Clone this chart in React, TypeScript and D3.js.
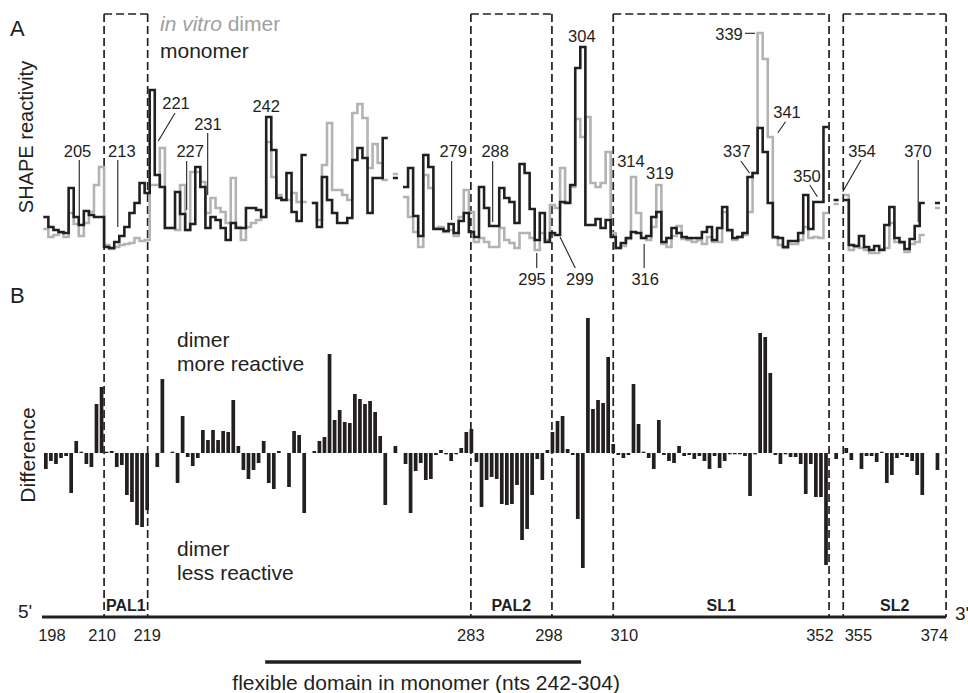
import React from 'react';
import * as d3 from 'd3';

// ---------- DATA ----------
const NT_START = 198;
const nts: number[] = d3.range(198, 375);

// SHAPE reactivity, monomer (black trace)
const monomer: (number | null)[] = [
  0.41, 0.31, 0.28, 0.26, 0.25, 0.70, 0.41, 0.33, 0.47, 0.43,
  0.41, 0.41, 0.11, 0.10, 0.16, 0.22, 0.31, 0.45, 0.55, 0.75,
  0.65, 1.68, 0.83, 0.71, 0.30, 0.30, 0.66, 0.44, 0.28, 0.34,
  0.91, 0.71, 0.30, 0.41, 0.38, 0.30, 0.18, 0.35, 0.30, 0.30,
  0.50, 0.50, 0.48, 0.41, 1.41, 1.08, 0.60, 0.58, 0.85, 0.46,
  0.37, 1.03, null, 0.55, 0.31, 0.81, 0.58, 0.45, 0.35, 0.35,
  0.40, 0.98, 1.10, 1.00, 0.45, 0.80, 0.80, 1.20, null, 0.80,
  null, 0.71, 0.90, 0.42, 0.22, 1.03, 0.91, 0.29, 0.29, 0.27,
  0.34, 0.25, 0.37, 0.45, 0.26, 0.21, 0.71, 0.50, 0.32, 0.32,
  0.70, 0.60, 0.56, 0.35, 0.94, 0.85, 0.49, 0.18, 0.45, 0.16,
  0.25, 0.23, 0.56, 0.55, 0.73, 1.90, 2.11, 0.33, 0.33, 0.39,
  0.30, 0.38, 0.21, 0.10, 0.15, 0.20, 0.26, 0.25, 0.20, 0.22,
  0.41, 0.46, 0.16, 0.20, 0.30, 0.25, 0.21, 0.20, 0.20, 0.20,
  0.26, 0.31, 0.18, 0.30, 0.51, 0.28, 0.20, 0.21, 0.25, 0.81,
  0.85, 1.30, 1.06, 0.55, 0.21, 0.20, 0.11, 0.17, 0.17, 0.25,
  0.63, 0.29, 0.56, 0.56, 1.31, null, 0.58, null, 0.58, 0.13,
  0.12, 0.22, 0.11, 0.08, 0.12, 0.08, 0.33, 0.51, 0.20, 0.16,
  0.09, 0.19, 0.32, 0.55, null, null, 0.55,
];

// SHAPE reactivity, in vitro dimer (grey trace)
const dimer: (number | null)[] = [
  0.29, 0.21, 0.23, 0.25, 0.21, 0.45, 0.34, 0.22, 0.35, 0.46,
  0.73, 0.91, 0.13, 0.09, 0.11, 0.13, 0.14, 0.15, 0.20, 0.17,
  0.18, 0.73, 0.73, 1.10, 0.30, 0.30, 0.28, 0.73, 0.28, 0.86,
  0.86, 0.76, 0.45, 0.60, 0.50, 0.46, 0.35, 0.80, 0.31, 0.18,
  0.31, 0.35, 0.38, 0.41, 1.16, 0.81, 0.63, 0.58, 0.58, 0.65,
  0.56, 0.56, null, 0.55, 0.38, 0.93, 1.35, 0.68, 0.68, 0.63,
  0.58, 1.45, 1.54, 1.40, 0.90, 1.14, 0.95, 0.78, null, 0.84,
  null, 0.61, 0.41, 0.26, 0.11, 0.83, 0.70, 0.30, 0.31, 0.26,
  0.28, 0.22, 0.41, 0.68, 0.46, 0.16, 0.20, 0.16, 0.11, 0.11,
  0.30, 0.18, 0.15, 0.10, 0.25, 0.25, 0.20, 0.08, 0.25, 0.18,
  0.53, 0.50, 0.90, 0.56, 0.71, 1.39, 1.21, 1.41, 0.75, 0.71,
  0.75, 1.06, 0.25, 0.10, 0.12, 0.19, 0.81, 0.45, 0.20, 0.18,
  0.31, 0.73, 0.14, 0.11, 0.22, 0.32, 0.19, 0.18, 0.16, 0.18,
  0.14, 0.21, 0.16, 0.16, 0.46, 0.27, 0.18, 0.21, 0.23, 0.46,
  0.85, 2.25, 1.99, 1.21, 0.20, 0.13, 0.10, 0.14, 0.14, 0.18,
  0.31, 0.20, 0.21, 0.20, 0.45, null, 0.54, null, 0.63, 0.08,
  0.11, 0.10, 0.08, 0.05, 0.05, 0.09, 0.10, 0.35, 0.16, 0.15,
  0.06, 0.14, 0.16, 0.23, null, null, 0.50,
];

// Difference (dimer - monomer)
const difference: (number | null)[] = [
  -0.16, -0.08, -0.11, -0.05, -0.03, -0.40, 0.12, 0.01, -0.11, -0.14,
  0.49, 0.66, 0.01, 0.02, -0.14, -0.12, -0.42, -0.49, -0.72, -0.74,
  -0.57, null, -0.14, 0.74, null, 0.01, -0.30, 0.37, -0.04, -0.13,
  -0.05, 0.23, 0.13, 0.23, 0.13, 0.22, 0.21, 0.53, 0.07, -0.17,
  -0.26, -0.17, -0.10, 0.12, -0.30, -0.36, 0.02, null, -0.34, 0.22,
  0.18, -0.60, null, 0.02, 0.12, 0.16, 0.99, 0.33, 0.43, 0.31,
  0.30, 0.59, 0.54, 0.49, 0.52, 0.41, 0.17, -0.52, null, 0.07,
  null, -0.11, -0.60, -0.18, -0.10, -0.27, -0.26, -0.02, 0.03, -0.01,
  -0.08, -0.01, 0.05, 0.21, 0.24, -0.09, -0.54, -0.27, -0.24, -0.26,
  -0.51, -0.52, -0.51, -0.32, -0.87, -0.76, -0.42, -0.06, -0.27, 0.03,
  0.21, 0.32, 0.37, 0.04, -0.02, -0.66, -1.15, 1.35, 0.44, 0.53,
  0.50, 0.96, 0.09, -0.02, -0.05, -0.02, 0.69, 0.29, 0.01, -0.05,
  -0.16, 0.33, -0.02, -0.08, -0.10, 0.07, -0.03, -0.02, -0.06, -0.03,
  -0.08, -0.16, -0.03, -0.15, -0.08, -0.01, -0.01, -0.01, -0.03, -0.43,
  -0.01, 1.20, 1.16, 0.80, -0.02, -0.11, -0.01, -0.04, -0.04, -0.11,
  -0.41, -0.11, -0.44, -0.44, -1.12, null, -0.06, null, 0.05, -0.07,
  null, -0.16, -0.03, -0.03, -0.09, 0.01, -0.30, -0.22, -0.05, -0.02,
  -0.04, -0.08, -0.22, -0.42, null, null, -0.17,
];

// Structural regions (nucleotide coordinates of the dashed boxes)
const regionNames = ['PAL1', 'PAL2', 'SL1', 'SL2'];
const regionFrom = [209.5, 281.9, 310.0, 355.4];
const regionTo = [218.1, 297.9, 352.6, 375.7];

// Axis tick labels
const tickLabels = ['198', '210', '219', '283', '298', '310', '352', '355', '374'];
const tickLabelAt = [199.2, 209.1, 218.0, 281.9, 297.3, 312.2, 350.8, 358.4, 373.4];

// Flexible domain
const flexFrom = 242;
const flexTo = 304;

// Peak annotations: label, text anchor (nt, reactivity), leader line
const annLabels = ['205', '213', '221', '227', '231', '242', '279', '288', '304', '314', '319', '295', '299', '316', '337', '339', '341', '350', '354', '370'];
const annTextNt = [204.25, 213.0, 223.7, 226.5, 230.0, 241.5, 278.4, 286.7, 303.8, 313.5, 319.2, 293.96, 303.4, 316.3, 334.4, 332.85, 344.3, 348.25, 359.1, 370.15];
const annTextV = [1.01, 1.01, 1.49, 1.01, 1.28, 1.46, 1.01, 1.01, 2.16, 0.91, 0.79, -0.27, -0.27, -0.27, 1.01, 2.18, 1.40, 0.763, 1.01, 1.01];
const annLines: ([number, number][] | null)[] = [
  [[204.6, 0.98], [204.6, 0.41]],
  [[212.2, 0.98], [212.2, 0.31]],
  [[223.5, 1.45], [220.2, 1.17]],
  [[225.8, 0.97], [225.8, 0.48]],
  [[229.95, 1.25], [229.95, 0.63]],
  null,
  [[278.1, 0.97], [278.1, 0.38]],
  [[286.2, 0.97], [286.2, 0.36]],
  null,
  null,
  null,
  [[294.9, 0.05], [294.9, -0.10]],
  [[299.5, 0.21], [302.5, -0.10]],
  [[316.1, 0.14], [316.1, -0.10]],
  [[335.2, 0.97], [336.9, 0.85]],
  [[336.0, 2.247], [338.0, 2.247]],
  [[344.0, 1.363], [342.5, 1.253]],
  [[348.8, 0.73], [350.3, 0.613]],
  [[358.9, 0.98], [355.3, 0.663]],
  [[370.2, 0.98], [370.2, 0.36]],
];

// ---------- LAYOUT ----------
const W = 968;
const H = 693;
const FONT = '"Liberation Sans", Arial, Helvetica, sans-serif';
const INK = '#231f20';
const GREY = '#b3b3b3';
const BOX_TOP = 14;
const AXIS_Y = 617;

const x = d3.scaleLinear().domain([197.5, 374.5]).range([43.3, 940]);
const yA = d3.scaleLinear().domain([0, 2.3]).range([258, 28]);
const yB = d3.scaleLinear().domain([-1.2, 1.4]).range([573, 313]);

type P = { n: number; v: number | null };
function stepPoints(vals: (number | null)[]): P[] {
  const pts: P[] = [];
  vals.forEach((v, i) => {
    const n = NT_START + i;
    if (v == null) {
      pts.push({ n, v: null });
    } else {
      pts.push({ n: n - 0.5, v }, { n: n + 0.5, v });
    }
  });
  return pts;
}

const lineGen = d3
  .line<P>()
  .defined((d) => d.v != null)
  .x((d) => x(d.n))
  .y((d) => yA(d.v as number));

export default function App() {
  const barW = 3.7;
  return (
    <svg
      width={W}
      height={H}
      viewBox={`0 0 ${W} ${H}`}
      style={{ position: 'absolute', left: 0, top: 0, background: '#fff' }}
      fontFamily={FONT}
    >
      <rect x={0} y={0} width={W} height={H} fill="#fff" />

      {/* Dashed region boxes */}
      {regionNames.map((name, i) => {
        const x0 = x(regionFrom[i]);
        const x1 = x(regionTo[i]);
        return (
          <g key={name} stroke={INK} strokeWidth={1.7} strokeDasharray="8 4" fill="none">
            <line x1={x0} y1={BOX_TOP} x2={x1} y2={BOX_TOP} />
            <line x1={x0} y1={BOX_TOP} x2={x0} y2={AXIS_Y} />
            <line x1={x1} y1={BOX_TOP} x2={x1} y2={AXIS_Y} />
          </g>
        );
      })}

      {/* Panel A traces */}
      <path d={lineGen(stepPoints(dimer)) || ''} fill="none" stroke={GREY} strokeWidth={2.6} strokeLinejoin="miter" />
      <path d={lineGen(stepPoints(monomer)) || ''} fill="none" stroke={INK} strokeWidth={2.6} strokeLinejoin="miter" />

      {/* Annotations */}
      {annLabels.map((lab, i) => {
        const ln = annLines[i];
        return (
          <g key={lab}>
            <text x={x(annTextNt[i])} y={yA(annTextV[i])} fontSize={16.5} textAnchor="middle" fill={INK}>
              {lab}
            </text>
            {ln && (
              <line
                x1={x(ln[0][0])}
                y1={yA(ln[0][1])}
                x2={x(ln[1][0])}
                y2={yA(ln[1][1])}
                stroke={INK}
                strokeWidth={1.1}
              />
            )}
          </g>
        );
      })}

      {/* Legend */}
      <text x={160} y={31} fontSize={21} fill="#a0a0a0">
        <tspan fontStyle="italic">in vitro</tspan>
        <tspan> dimer</tspan>
      </text>
      <text x={160} y={58} fontSize={21} fill={INK}>
        monomer
      </text>

      {/* Panel letters and axis titles */}
      <text x={10} y={36} fontSize={22} fill={INK}>A</text>
      <text x={10} y={303} fontSize={22} fill={INK}>B</text>
      <text transform="translate(33,137) rotate(-90)" fontSize={20} textAnchor="middle" fill={INK}>
        SHAPE reactivity
      </text>
      <text transform="translate(35,455) rotate(-90)" fontSize={21} textAnchor="middle" fill={INK}>
        Difference
      </text>

      {/* Panel B bars */}
      {difference.map((d, i) => {
        if (d == null) return null;
        const n = nts[i];
        const y0 = yB(0);
        const y1 = yB(d);
        const h = Math.max(Math.abs(y1 - y0), 1.3);
        return <rect key={n} x={x(n) - barW / 2} y={d >= 0 ? y0 - h : y0} width={barW} height={h} fill={INK} />;
      })}

      <text x={177} y={347} fontSize={21} fill={INK}>dimer</text>
      <text x={177} y={371} fontSize={21} fill={INK}>more reactive</text>
      <text x={177} y={556} fontSize={21} fill={INK}>dimer</text>
      <text x={177} y={580} fontSize={21} fill={INK}>less reactive</text>

      {/* Bottom axis */}
      <line x1={x(197.25)} y1={AXIS_Y} x2={x(regionTo[3])} y2={AXIS_Y} stroke={INK} strokeWidth={3} />
      <text x={18} y={618} fontSize={19} fill={INK}>5'</text>
      <text x={955} y={620} fontSize={19} fill={INK}>3'</text>
      {regionNames.map((name, i) => (
        <text
          key={name}
          x={(x(regionFrom[i]) + x(regionTo[i])) / 2}
          y={611}
          fontSize={16}
          fontWeight="bold"
          textAnchor="middle"
          fill={INK}
        >
          {name}
        </text>
      ))}
      {tickLabels.map((t, i) => (
        <text key={t} x={x(tickLabelAt[i])} y={641} fontSize={16.5} textAnchor="middle" fill={INK}>
          {t}
        </text>
      ))}

      {/* Flexible domain */}
      <line x1={x(flexFrom - 0.7)} y1={662} x2={x(flexTo - 0.35)} y2={662} stroke={INK} strokeWidth={3.3} />
      <text x={(x(flexFrom - 0.7) + x(flexTo - 0.35)) / 2 + 3} y={690} fontSize={21} textAnchor="middle" fill={INK}>
        flexible domain in monomer (nts 242-304)
      </text>
    </svg>
  );
}
